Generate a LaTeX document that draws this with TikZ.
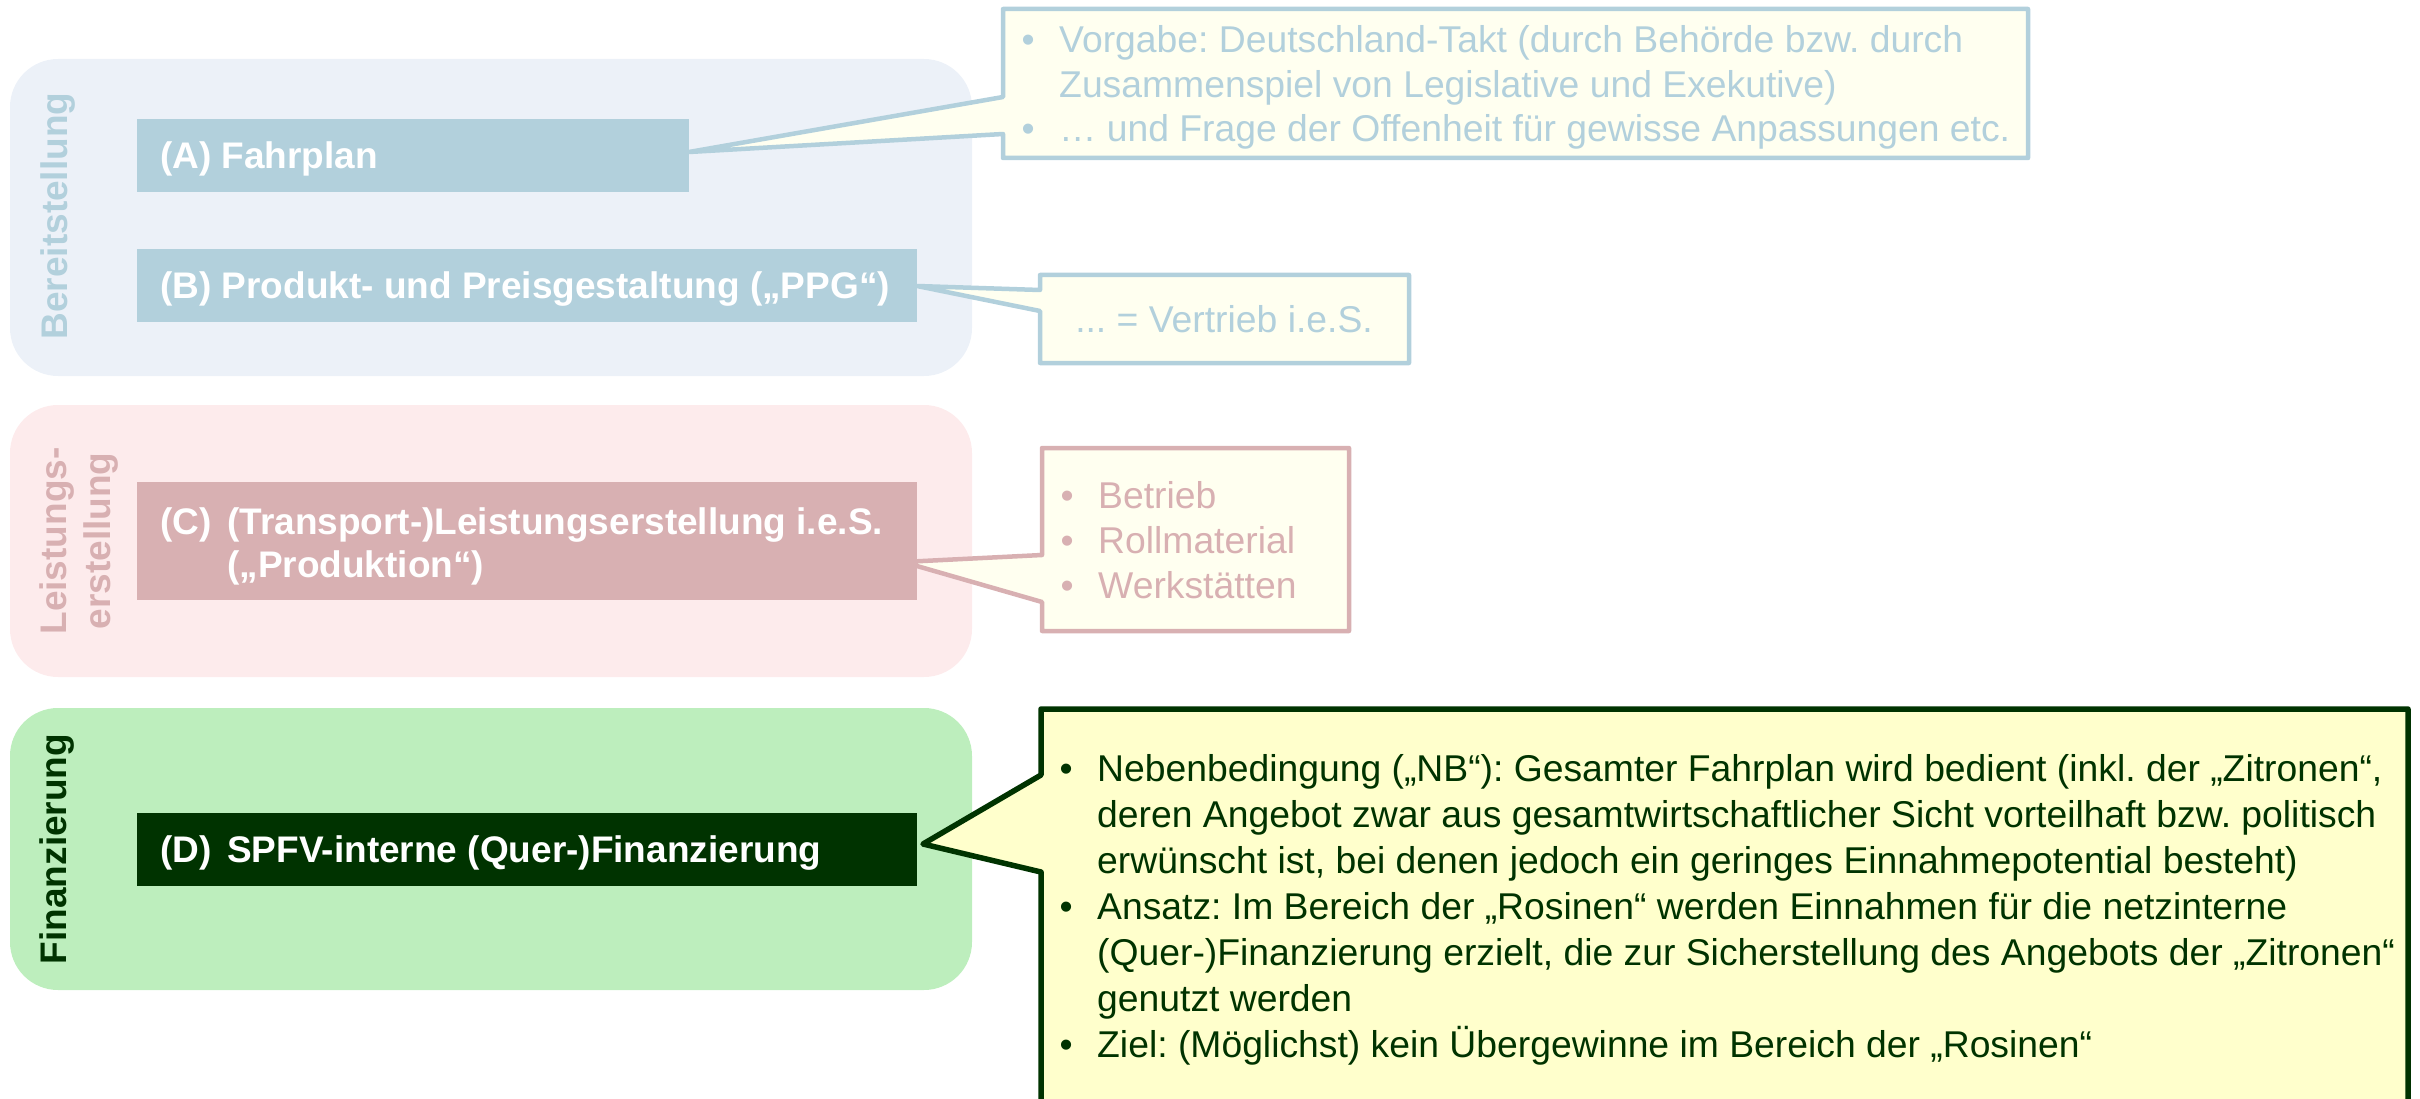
\documentclass[tikz,border=0pt]{standalone}
\usepackage{fontspec}
\setmainfont{Liberation Sans}
\usetikzlibrary{calc}

\definecolor{bluebox}{RGB}{178,208,220}
\definecolor{bluebg}{RGB}{236,241,248}
\definecolor{notefill}{RGB}{255,255,240}
\definecolor{pinkbox}{RGB}{216,176,178}
\definecolor{pinkbg}{RGB}{253,235,236}
\definecolor{greenbg}{RGB}{189,238,189}
\definecolor{darkgreen}{RGB}{0,51,0}
\definecolor{notefillD}{RGB}{255,255,204}

% bullet and continuation indents for the note lists
\newcommand{\bulletmark}{\makebox[37.5pt][l]{•}}
\newcommand{\contmark}{\hspace*{37.5pt}}

\begin{document}
\frenchspacing
\begin{tikzpicture}[x=1pt,y=-1pt,
  group/.style={rounded corners=48pt, inner sep=0pt, outer sep=0pt, draw=none},
  boxnode/.style={inner sep=0pt, outer sep=0pt, draw=none},
  notebody/.style={line width=4.5pt, line join=round},
  vlabel/.style={rotate=90, anchor=base, inner sep=0pt, font=\bfseries\fontsize{37}{44}\selectfont},
  boxtext/.style={anchor=base west, inner sep=0pt, text=white, font=\bfseries\fontsize{37}{43}\selectfont},
  notetext/.style={anchor=base west, inner sep=0pt}
]
\useasboundingbox (0,0) rectangle (2420,1099);
\clip (0,0) rectangle (2420,1099);

% group panels
\node[group, fill=bluebg,  minimum width=962pt, minimum height=317pt] (g1) at (491,217.5) {};
\node[group, fill=pinkbg,  minimum width=962pt, minimum height=272pt] (g2) at (491,541) {};
\node[group, fill=greenbg, minimum width=962pt, minimum height=282pt] (g3) at (491,849) {};

% group titles
\node[vlabel, text=bluebox]   (lg1)  at (67.5,216) {Bereitstellung};
\node[vlabel, text=pinkbox]   (lg2a) at (66,541)   {Leistungs-};
\node[vlabel, text=pinkbox]   (lg2b) at (110,541)  {erstellung};
\node[vlabel, text=darkgreen] (lg3)  at (66,849)   {Finanzierung};

% task boxes
\node[boxnode, fill=bluebox,   minimum width=552pt, minimum height=73pt]  (A) at (413,155.5) {};
\node[boxnode, fill=bluebox,   minimum width=780pt, minimum height=73pt]  (B) at (527,285.5) {};
\node[boxnode, fill=pinkbox,   minimum width=780pt, minimum height=118pt] (C) at (527,541) {};
\node[boxnode, fill=darkgreen, minimum width=780pt, minimum height=73pt]  (D) at (527,849.5) {};

% callout tips
\coordinate (tipA) at ($(A.east)+(0,-3.5)$);
\coordinate (tipB) at ($(B.east)+(0,0.5)$);
\coordinate (tipC) at ($(C.east)+(-14,21)$);
\coordinate (tipD) at ($(D.east)+(6,-5.5)$);

% callout bodies with their pointers
\coordinate (n1a) at (1003,9);   \coordinate (n1b) at (2028,158);
\coordinate (n1u) at (1003,97);  \coordinate (n1l) at (1003,134);
\draw[notebody, draw=bluebox, fill=notefill] (n1a) -| (n1b) -| (n1l) -- (tipA) -- (n1u) -- cycle;

\coordinate (n2a) at (1040,275); \coordinate (n2b) at (1409,363);
\coordinate (n2u) at (1040,290); \coordinate (n2l) at (1040,311);
\draw[notebody, draw=bluebox, fill=notefill] (n2a) -| (n2b) -| (n2l) -- (tipB) -- (n2u) -- cycle;

\coordinate (n3a) at (1042,448); \coordinate (n3b) at (1349,631);
\coordinate (n3u) at (1042,555); \coordinate (n3l) at (1042,602);
\draw[notebody, draw=pinkbox, fill=notefill] (n3a) -| (n3b) -| (n3l) -- (tipC) -- (n3u) -- cycle;

\coordinate (n4a) at (1041,709); \coordinate (n4b) at (2408,1130);
\coordinate (n4u) at (1041,775); \coordinate (n4l) at (1041,872);
\draw[notebody, line width=5.5pt, draw=darkgreen, fill=notefillD] (n4a) -| (n4b) -| (n4l) -- (tipD) -- (n4u) -- cycle;

% box texts
\node[boxtext] (tA) at (160,169) {(A) Fahrplan};
\node[boxtext] (tB) at (160,299) {(B) Produkt- und Preisgestaltung („PPG“)};
\node[boxtext] (tC) at (160,534)
  {\begin{tabular}[t]{@{}l@{}}\makebox[67pt][l]{(C)}(Transport-)Leistungserstellung i.e.S.\\
   \hspace*{67pt}(„Produktion“)\end{tabular}};
\node[boxtext] (tD) at (160,862) {\makebox[67pt][l]{(D)}SPFV-interne (Quer-)Finanzierung};

% callout texts
\node[notetext, text=bluebox, font=\fontsize{37.3}{44.5}\selectfont] (t1) at (1021.5,53)
  {\begin{tabular}[t]{@{}l@{}}
   \bulletmark Vorgabe: Deutschland-Takt (durch Behörde bzw. durch\\
   \contmark Zusammenspiel von Legislative und Exekutive)\\
   \bulletmark … und Frage der Offenheit für gewisse Anpassungen etc.
   \end{tabular}};

\node[anchor=base, inner sep=0pt, text=bluebox, font=\fontsize{37.3}{44.5}\selectfont] (t2) at (1224,333)
  {... = Vertrieb i.e.S.};

\node[notetext, text=pinkbox, font=\fontsize{37.3}{45}\selectfont] (t3) at (1060.5,508)
  {\begin{tabular}[t]{@{}l@{}}
   \bulletmark Betrieb\\
   \bulletmark Rollmaterial\\
   \bulletmark Werkstätten
   \end{tabular}};

\node[notetext, text=darkgreen, font=\fontsize{37.3}{46}\selectfont] (t4) at (1059.5,781)
  {\begin{tabular}[t]{@{}l@{}}
   \bulletmark Nebenbedingung („NB“): Gesamter Fahrplan wird bedient (inkl. der „Zitronen“,\\
   \contmark deren Angebot zwar aus gesamtwirtschaftlicher Sicht vorteilhaft bzw. politisch\\
   \contmark erwünscht ist, bei denen jedoch ein geringes Einnahmepotential besteht)\\
   \bulletmark Ansatz: Im Bereich der „Rosinen“ werden Einnahmen für die netzinterne\\
   \contmark (Quer-)Finanzierung erzielt, die zur Sicherstellung des Angebots der „Zitronen“\\
   \contmark genutzt werden\\
   \bulletmark Ziel: (Möglichst) kein Übergewinne im Bereich der „Rosinen“
   \end{tabular}};
\end{tikzpicture}
\end{document}
